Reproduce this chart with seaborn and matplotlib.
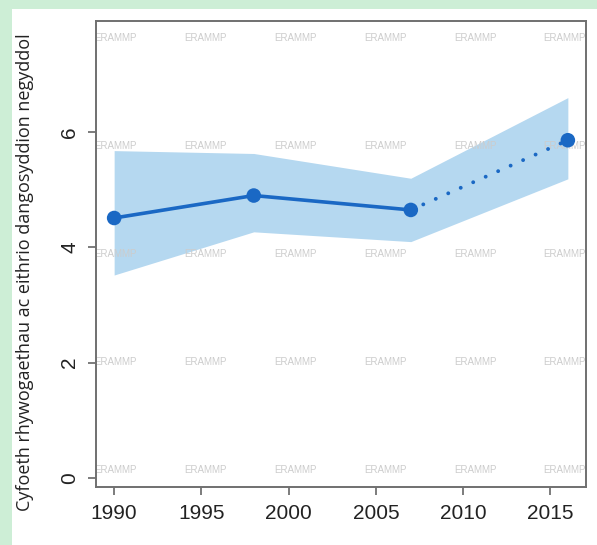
import matplotlib
matplotlib.use("Agg")
import matplotlib.pyplot as plt
import seaborn as sns
import pandas as pd
from matplotlib.patches import Rectangle

# Data
years = [1990, 1998, 2007, 2016]
richness = [4.51, 4.90, 4.65, 5.86]
lower = [3.52, 4.27, 4.10, 5.19]
upper = [5.68, 5.63, 5.20, 6.60]
x_ticks = [1990, 1995, 2000, 2005, 2010, 2015]
y_ticks = [0, 2, 4, 6]
y_label = "Cyfoeth rhywogaethau ac eithrio dangosyddion negyddol"

df = pd.DataFrame({"Blwyddyn": years, "Cyfoeth": richness, "Isaf": lower, "Uchaf": upper})

sns.set_theme(style="white")
plt.rcParams["font.family"] = ["Liberation Sans", "DejaVu Sans"]

line_col = "#1a68c4"
band_col = "#b5d8f0"

fig = plt.figure(figsize=(5.97, 5.45), dpi=100, facecolor="#cdeed6")
# white panel inside the green frame
fig.patches.append(Rectangle((12 / 597, 0), 1, 1 - 9 / 545, transform=fig.transFigure,
                             facecolor="white", edgecolor="none", zorder=-10))
ax = fig.add_axes([96 / 597, 1 - 487 / 545, (586 - 96) / 597, (487 - 21) / 545])
ax.set_facecolor("white")

ax.fill_between(df["Blwyddyn"], df["Isaf"], df["Uchaf"], color=band_col, lw=0, zorder=1)

solid = df.iloc[:3]
dotted = df.iloc[2:]
sns.lineplot(data=solid, x="Blwyddyn", y="Cyfoeth", ax=ax, color=line_col, lw=2.6, zorder=3)
sns.lineplot(data=dotted, x="Blwyddyn", y="Cyfoeth", ax=ax, color=line_col, lw=2.8,
             linestyle=(0, (0.01, 3.5)), dash_capstyle="round", zorder=3)
sns.scatterplot(data=df, x="Blwyddyn", y="Cyfoeth", ax=ax, color=line_col, s=110,
                edgecolor="none", zorder=4)

# ERAMMP watermark grid
for i in range(6):
    for j in range(5):
        ax.text(0.039 + i * 0.1836, 0.964 - j * 0.2318, "ERAMMP", transform=ax.transAxes,
                fontsize=7, color="#cccccc", ha="center", va="center", zorder=2, clip_on=True)

ax.set_xlim(1988.96, 2017.04)
ax.set_ylim(-0.16, 7.93)
ax.set_xticks(x_ticks)
ax.set_yticks(y_ticks)
ax.tick_params(axis="both", direction="out", length=6, width=1.2, color="#666666",
               labelsize=15, labelcolor="#222222", bottom=True, left=True)
ax.tick_params(axis="x", pad=6)
ax.tick_params(axis="y", pad=6)
for lab in ax.get_yticklabels():
    lab.set_rotation(90)
    lab.set_va("center")
for sp in ax.spines.values():
    sp.set_color("#707070")
    sp.set_linewidth(1.4)

ax.set_xlabel("")
ax.set_ylabel("")
fig.text(25 / 597, 1 - 272 / 545, y_label, rotation=90, ha="center", va="center",
         fontsize=13, color="#222222", family=["Open Sans", "DejaVu Sans"])

fig.savefig("out.png", dpi=100, facecolor=fig.get_facecolor())
